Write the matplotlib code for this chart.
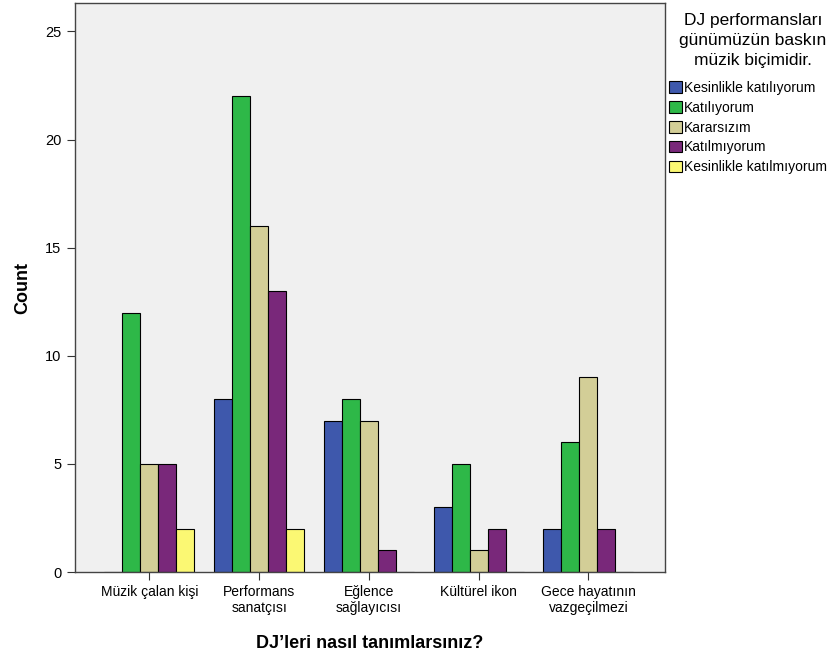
import numpy as np
import matplotlib.pyplot as plt

plt.rcParams['font.family'] = ['Liberation Sans', 'DejaVu Sans']

# categories and counts
categories = ['Müzik çalan kişi', 'Performans\nsanatçısı', 'Eğlence\nsağlayıcısı',
              'Kültürel ikon', 'Gece hayatının\nvazgeçilmezi']
responses = ['Kesinlikle katılıyorum', 'Katılıyorum', 'Kararsızım',
             'Katılmıyorum', 'Kesinlikle katılmıyorum']
kesinlikle_katiliyorum = [0, 8, 7, 3, 2]
katiliyorum = [12, 22, 8, 5, 6]
kararsizim = [5, 16, 7, 1, 9]
katilmiyorum = [5, 13, 1, 2, 2]
kesinlikle_katilmiyorum = [2, 2, 0, 0, 0]

counts = [kesinlikle_katiliyorum, katiliyorum, kararsizim, katilmiyorum, kesinlikle_katilmiyorum]
colors = ['#3E58AC', '#2EB848', '#D3CE97', '#79287A', '#FBF873']

fig = plt.figure(figsize=(8.4, 6.59), dpi=100)
ax = fig.add_axes([0.089, 0.132, 0.703, 0.863])
ax.set_facecolor('#F0F0F0')

x = np.arange(len(categories))
w = 0.164
for i, (name, vals, c) in enumerate(zip(responses, counts, colors)):
    ax.bar(x + (i - 2) * w, vals, width=w, color=c, edgecolor='black',
           linewidth=0.8, label=name)

ax.set_xlim(-0.68, 4.7)
ax.set_ylim(0, 26.3)
ax.set_yticks([0, 5, 10, 15, 20, 25])
ax.set_xticks(x)
ax.set_xticklabels(categories, fontsize=10)
ax.tick_params(axis='y', labelsize=10.5, length=6, color='#333333')
ax.tick_params(axis='x', length=6, color='#333333')
for s in ax.spines.values():
    s.set_color('#444444')
    s.set_linewidth(1.0)

ax.set_ylabel('Count', fontsize=13, fontweight='bold', labelpad=10)
ax.set_xlabel('DJ’leri nasıl tanımlarsınız?', fontsize=13, fontweight='bold', labelpad=14)

# legend title as separate text, legend below it
fig.text(753 / 840, 1 - 13 / 659, 'DJ performansları\ngünümüzün baskın\nmüzik biçimidir.',
         ha='center', va='top', fontsize=12.5, linespacing=1.4, multialignment='center')
leg = ax.legend(loc='upper left', bbox_to_anchor=(669 / 840, 1 - 81 / 659),
                bbox_transform=fig.transFigure, frameon=False,
                fontsize=10, handlelength=0.9, handleheight=0.9,
                handletextpad=0.2, labelspacing=0.42, borderaxespad=0,
                borderpad=0.0)

fig.savefig('out.png', dpi=100)
